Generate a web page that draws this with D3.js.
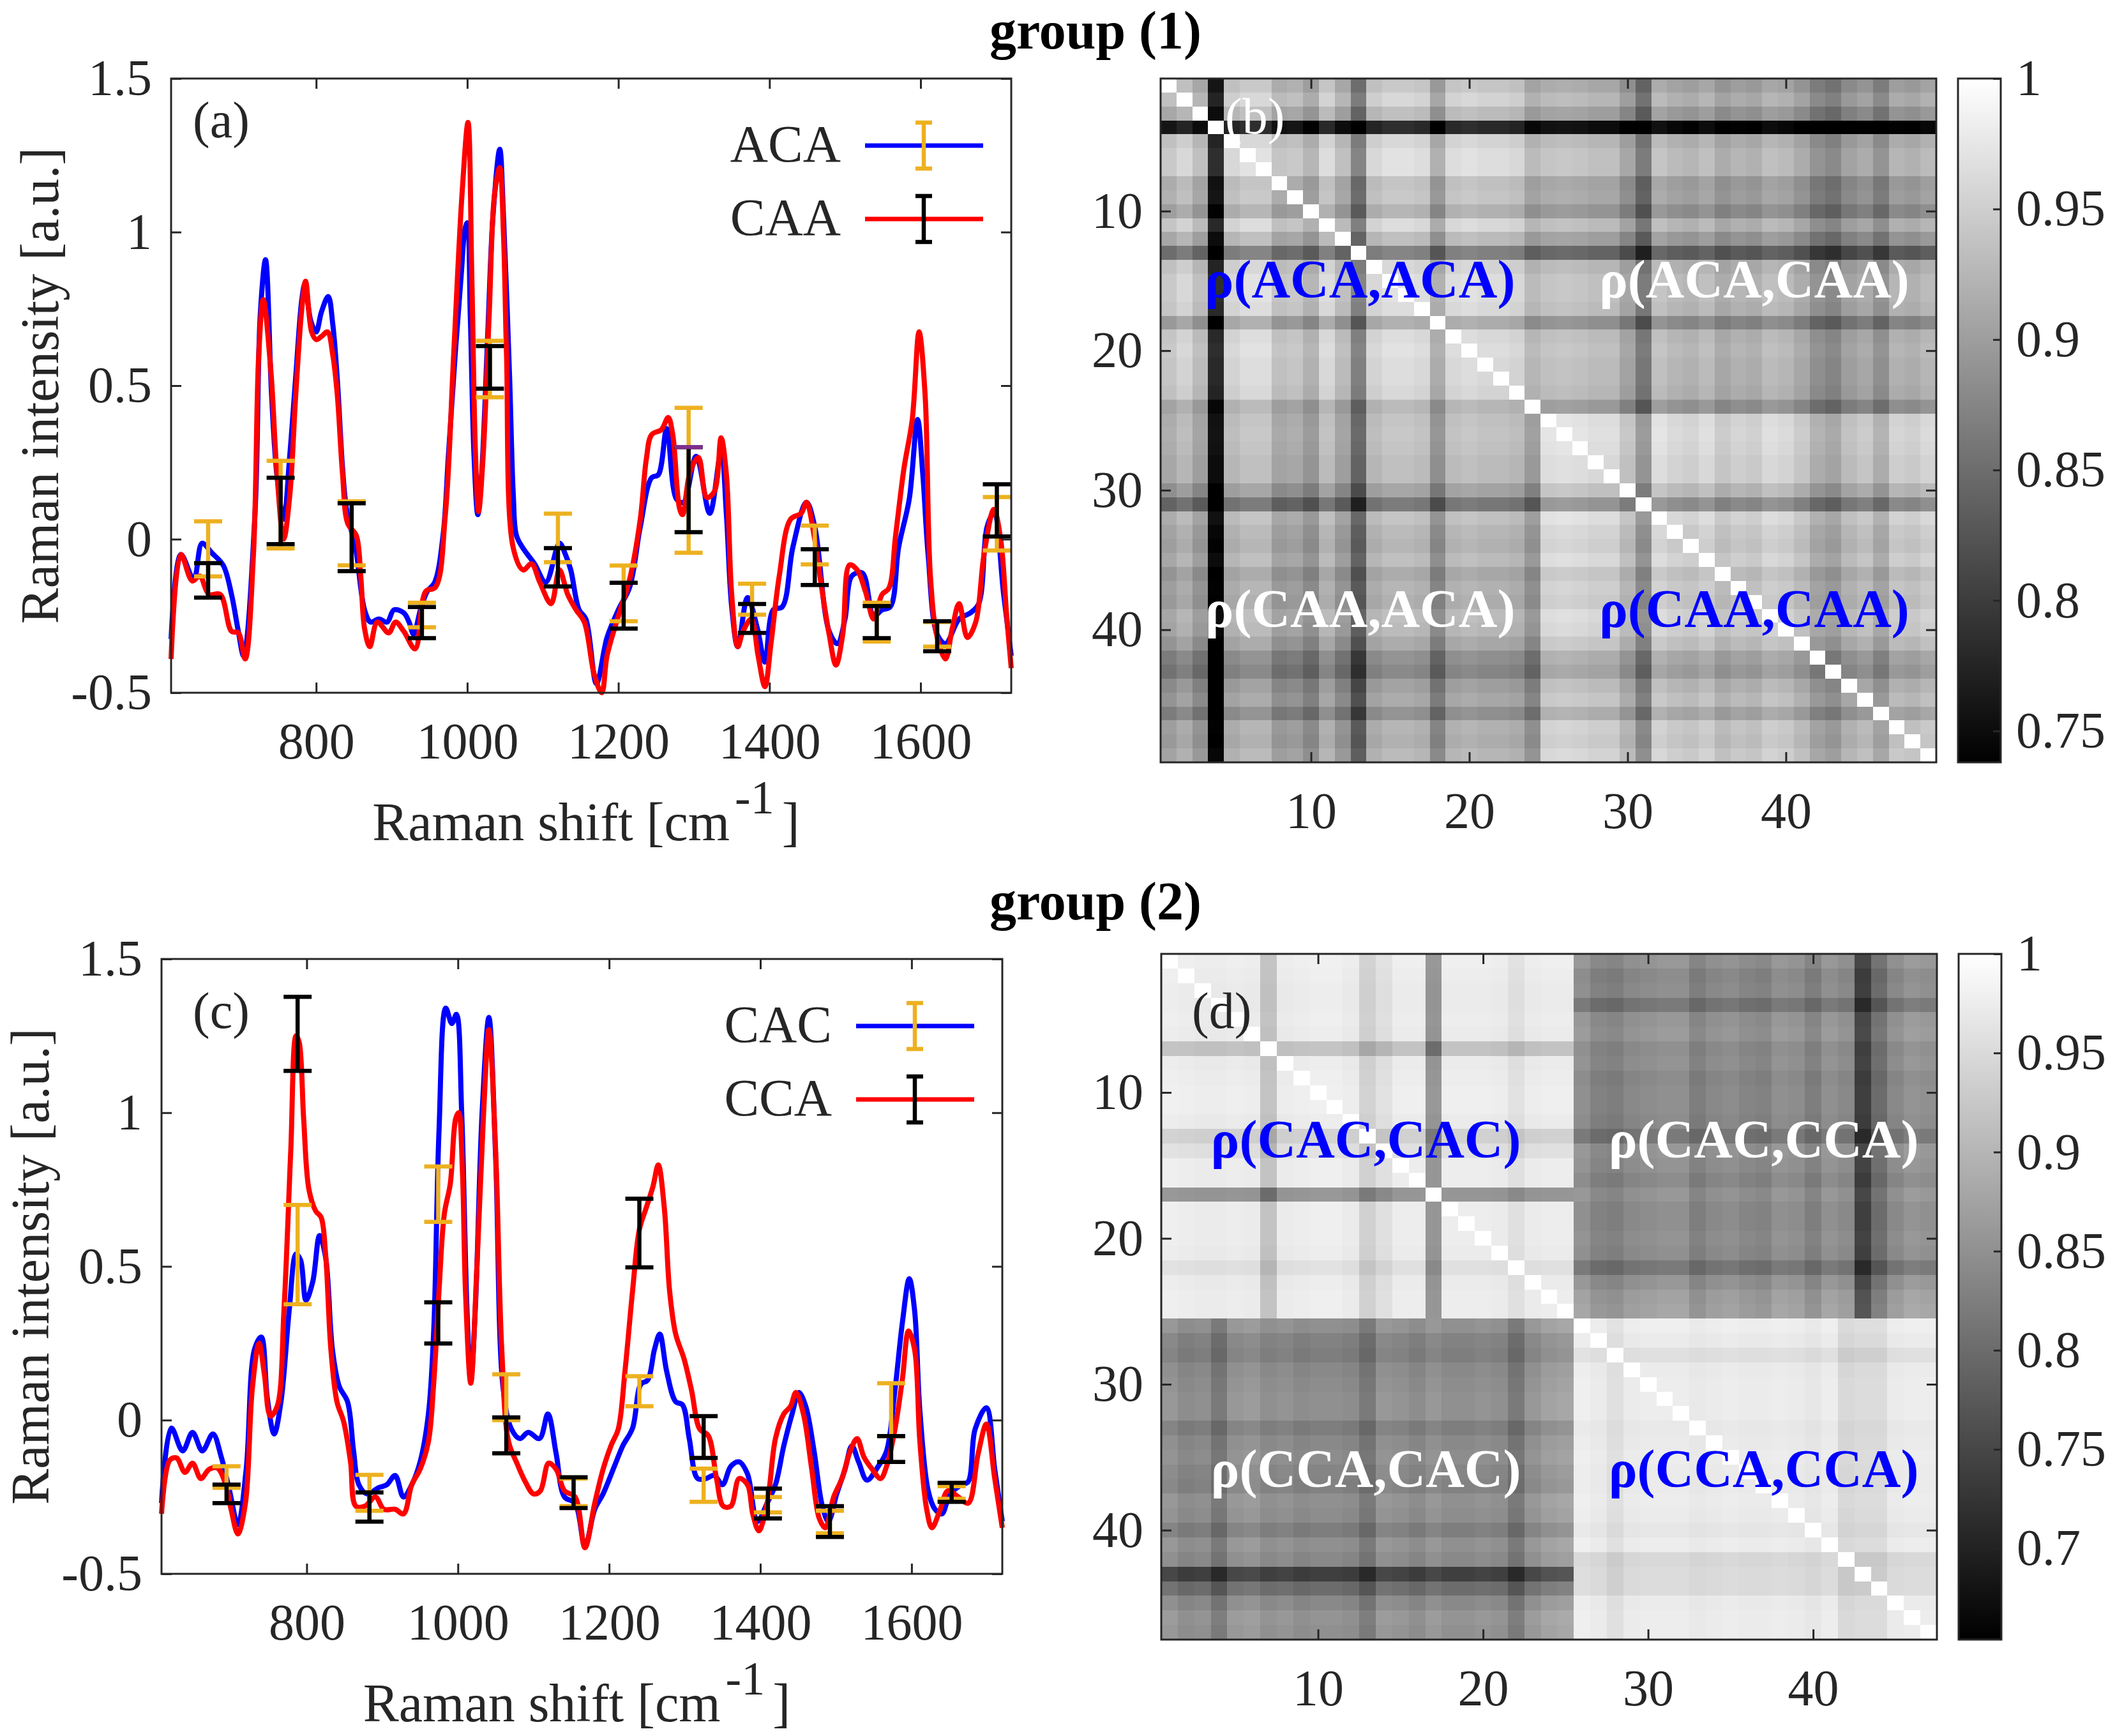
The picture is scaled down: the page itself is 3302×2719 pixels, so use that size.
<!DOCTYPE html>
<html>
<head>
<meta charset="utf-8">
<script src="https://cdn.jsdelivr.net/npm/d3@7.9.0/dist/d3.min.js"></script>
<style>
  body { margin: 0; background: #fff; }
  svg { display: block; }
  text { font-family: "Liberation Serif", "Times New Roman", serif; }
</style>
</head>
<body>
<div id="chart"></div>
<script>
// ---------- data ----------
const xDomain = [608, 1720];
const yDomain = [-0.5, 1.5];
const xTicks = [800, 1000, 1200, 1400, 1600];
const yTicks = [-0.5, 0, 0.5, 1, 1.5];

// group (1) spectra: [Raman shift, intensity]
const aca = [[608,-0.325],[621,-0.05],[638,-0.13],[649,-0.013],[662,-0.045],[677,-0.085],[688,-0.18],[697,-0.3],[704,-0.38],[719,0.08],[726,0.73],[733,0.91],[741,0.47],[748,0.21],[757,0.065],[765,0.27],[773,0.53],[781,0.78],[785,0.83],[793,0.71],[800,0.675],[807,0.74],[816,0.79],[822,0.7],[828,0.52],[835,0.23],[840,0.1],[848,0.013],[853,-0.04],[864,-0.23],[872,-0.27],[883,-0.26],[894,-0.27],[903,-0.23],[916,-0.24],[923,-0.27],[929,-0.31],[938,-0.23],[947,-0.17],[957,-0.14],[968,0.013],[975,0.27],[984,0.6],[992,0.86],[997,1.01],[1000,1.03],[1004,0.73],[1009,0.27],[1014,0.08],[1019,0.21],[1027,0.66],[1034,1.05],[1043,1.27],[1048,1.05],[1056,0.53],[1061,0.14],[1065,0.013],[1074,-0.03],[1089,-0.08],[1104,-0.14],[1122,-0.013],[1130,-0.05],[1137,-0.1],[1148,-0.23],[1157,-0.26],[1171,-0.47],[1185,-0.32],[1200,-0.23],[1215,-0.156],[1229,0.04],[1244,0.2],[1253,0.21],[1264,0.36],[1277,0.13],[1286,0.12],[1303,0.27],[1321,0.084],[1336,0.286],[1343,0.08],[1350,-0.22],[1358,-0.35],[1371,-0.19],[1384,-0.29],[1394,-0.4],[1405,-0.23],[1417,-0.22],[1431,-0.026],[1449,0.12],[1460,0.04],[1479,-0.3],[1490,-0.34],[1500,-0.26],[1509,-0.12],[1523,-0.11],[1538,-0.25],[1549,-0.23],[1560,-0.22],[1571,-0.026],[1585,0.13],[1596,0.39],[1603,0.21],[1610,-0.05],[1622,-0.31],[1633,-0.34],[1651,-0.26],[1666,-0.24],[1677,-0.21],[1688,0.04],[1697,0.084],[1710,-0.18],[1720,-0.38]];
const caa = [[608,-0.39],[621,-0.05],[636,-0.136],[646,-0.12],[658,-0.18],[673,-0.18],[688,-0.3],[697,-0.305],[706,-0.39],[717,-0.05],[724,0.6],[730,0.78],[740,0.55],[748,0.22],[757,0.0],[765,0.14],[773,0.47],[781,0.75],[786,0.84],[794,0.675],[800,0.65],[807,0.66],[815,0.675],[822,0.6],[828,0.47],[835,0.21],[842,0.05],[853,0.013],[859,-0.12],[864,-0.29],[871,-0.35],[881,-0.27],[896,-0.305],[905,-0.27],[916,-0.3],[931,-0.357],[945,-0.17],[958,-0.156],[971,0.08],[982,0.6],[993,1.12],[1001,1.357],[1006,0.86],[1011,0.27],[1015,0.09],[1021,0.27],[1029,0.73],[1036,1.12],[1043,1.21],[1048,0.99],[1052,0.6],[1061,-0.03],[1074,-0.1],[1085,-0.08],[1096,-0.14],[1111,-0.21],[1122,-0.1],[1133,-0.18],[1144,-0.23],[1155,-0.27],[1168,-0.44],[1178,-0.5],[1185,-0.38],[1200,-0.25],[1215,-0.13],[1229,0.065],[1237,0.26],[1244,0.34],[1257,0.357],[1266,0.396],[1272,0.34],[1281,0.1],[1285,0.08],[1295,0.22],[1306,0.266],[1317,0.136],[1327,0.155],[1336,0.33],[1343,0.21],[1350,-0.18],[1358,-0.35],[1365,-0.3],[1376,-0.26],[1385,-0.38],[1394,-0.48],[1402,-0.34],[1413,-0.12],[1428,0.065],[1442,0.084],[1449,0.12],[1459,0.013],[1468,-0.14],[1479,-0.31],[1488,-0.41],[1497,-0.31],[1506,-0.084],[1516,-0.1],[1527,-0.17],[1538,-0.26],[1549,-0.18],[1558,-0.16],[1567,0.013],[1578,0.23],[1589,0.39],[1598,0.675],[1606,0.47],[1613,-0.12],[1622,-0.32],[1633,-0.39],[1642,-0.29],[1651,-0.21],[1662,-0.32],[1673,-0.27],[1684,-0.05],[1697,0.097],[1706,0.0],[1714,-0.25],[1720,-0.42]];

// group (1) error bars (low, high)
const errX1 = [657, 753, 847, 940, 1030, 1120, 1207, 1293, 1377, 1460, 1542, 1622, 1701];
const acaLo = [-0.121,-0.03,-0.085,-0.287,0.462,-0.075,-0.267,-0.044,-0.246,-0.082,-0.333,-0.35,-0.037];
const acaHi = [0.058,0.255,0.123,-0.207,0.646,0.083,-0.086,0.428,-0.145,0.044,-0.207,-0.27,0.137];
const caaLo = [-0.19,-0.016,-0.104,-0.322,0.49,-0.154,-0.291,0.023,-0.305,-0.149,-0.322,-0.365,0.009];
const caaHi = [-0.078,0.2,0.117,-0.221,0.629,-0.029,-0.142,0.3,-0.211,-0.033,-0.218,-0.267,0.179];
const purpleCap = [[1293, 0.3]];

// group (2) spectra
const cac = [[608,-0.27],[621,-0.026],[636,-0.1],[649,-0.04],[662,-0.1],[676,-0.045],[687,-0.12],[698,-0.23],[709,-0.34],[720,-0.16],[731,0.23],[740,0.27],[748,0.07],[757,-0.045],[766,0.06],[777,0.36],[786,0.54],[792,0.52],[799,0.39],[808,0.45],[817,0.6],[825,0.53],[834,0.23],[843,0.11],[854,0.06],[862,-0.1],[869,-0.21],[880,-0.24],[895,-0.22],[906,-0.21],[917,-0.18],[928,-0.25],[939,-0.21],[950,-0.136],[961,0.02],[968,0.29],[975,0.94],[984,1.34],[992,1.29],[998,1.32],[1005,1.0],[1012,0.36],[1017,0.13],[1023,0.36],[1032,1.0],[1041,1.31],[1050,0.85],[1060,0.1],[1071,-0.03],[1082,-0.06],[1093,-0.04],[1108,-0.06],[1119,0.02],[1130,-0.11],[1141,-0.25],[1155,-0.27],[1168,-0.41],[1181,-0.29],[1192,-0.24],[1207,-0.15],[1218,-0.084],[1231,-0.026],[1242,0.117],[1251,0.13],[1260,0.23],[1267,0.28],[1276,0.16],[1288,0.06],[1297,0.05],[1306,-0.06],[1317,-0.19],[1328,-0.19],[1339,-0.18],[1350,-0.21],[1361,-0.15],[1372,-0.136],[1383,-0.175],[1396,-0.33],[1409,-0.27],[1420,-0.21],[1431,-0.084],[1442,0.02],[1451,0.09],[1460,0.045],[1471,-0.1],[1482,-0.28],[1490,-0.33],[1501,-0.24],[1512,-0.16],[1521,-0.084],[1530,-0.136],[1541,-0.195],[1556,-0.15],[1567,-0.1],[1578,0.097],[1588,0.32],[1597,0.46],[1604,0.357],[1611,0.03],[1622,-0.23],[1631,-0.29],[1640,-0.305],[1651,-0.24],[1666,-0.21],[1675,-0.2],[1684,-0.03],[1699,0.04],[1710,-0.16],[1720,-0.33]];
const cca = [[608,-0.305],[619,-0.13],[628,-0.123],[639,-0.17],[649,-0.14],[660,-0.19],[671,-0.16],[682,-0.156],[693,-0.21],[700,-0.29],[709,-0.37],[719,-0.27],[728,0.1],[737,0.25],[744,0.15],[752,0.013],[761,0.045],[770,0.36],[779,0.88],[786,1.25],[790,1.23],[796,0.98],[803,0.75],[812,0.68],[819,0.66],[825,0.54],[832,0.23],[840,0.06],[849,-0.006],[858,-0.136],[865,-0.28],[877,-0.28],[891,-0.25],[902,-0.29],[917,-0.29],[928,-0.305],[939,-0.21],[950,-0.16],[961,-0.07],[968,0.12],[975,0.42],[982,0.67],[990,0.77],[997,0.98],[1001,1.0],[1006,0.81],[1010,0.42],[1017,0.12],[1025,0.49],[1034,1.0],[1041,1.27],[1050,0.87],[1058,0.23],[1067,-0.07],[1078,-0.14],[1089,-0.2],[1100,-0.24],[1109,-0.23],[1120,-0.14],[1130,-0.16],[1141,-0.23],[1155,-0.25],[1168,-0.415],[1181,-0.27],[1192,-0.16],[1203,-0.08],[1212,-0.03],[1221,0.16],[1231,0.42],[1240,0.62],[1249,0.69],[1258,0.76],[1265,0.83],[1273,0.69],[1280,0.42],[1288,0.28],[1299,0.2],[1309,0.097],[1320,-0.03],[1331,-0.05],[1342,-0.19],[1351,-0.28],[1361,-0.28],[1372,-0.19],[1383,-0.21],[1390,-0.305],[1398,-0.36],[1409,-0.27],[1420,-0.06],[1431,0.02],[1440,0.045],[1447,0.09],[1457,0.02],[1468,-0.16],[1478,-0.32],[1486,-0.35],[1497,-0.25],[1508,-0.19],[1519,-0.1],[1528,-0.06],[1537,-0.12],[1548,-0.16],[1559,-0.19],[1567,-0.15],[1578,-0.03],[1588,0.136],[1596,0.29],[1604,0.23],[1611,-0.07],[1620,-0.29],[1627,-0.35],[1638,-0.29],[1648,-0.23],[1662,-0.25],[1675,-0.27],[1688,-0.11],[1699,-0.013],[1710,-0.19],[1720,-0.35]];

const errX2 = [694, 788, 883, 974, 1064, 1153, 1240, 1325, 1410, 1492, 1573, 1653];
const cacLo = [-0.22,0.377,-0.295,0.645,0.0,-0.28,0.045,-0.266,-0.3,-0.368,-0.052,-0.256];
const cacHi = [-0.15,0.7,-0.178,0.825,0.149,-0.19,0.143,-0.158,-0.25,-0.295,0.12,-0.215];
const ccaLo = [-0.27,1.136,-0.33,0.249,-0.108,-0.286,0.497,-0.123,-0.32,-0.38,-0.136,-0.266];
const ccaHi = [-0.21,1.377,-0.235,0.383,0.009,-0.186,0.72,0.013,-0.223,-0.28,-0.052,-0.204];

// correlation maps: per-spectrum deviation read from the row/column shading
// group (1): 24 ACA + 25 CAA
const bSizeA = 24;
const bWithin = [0.04,0.025,0.05,0.2,0.025,0.015,0.015,0.045,0.04,0.06,0.02,0.05,0.11,0.025,0.015,0.015,0.02,0.065,0.02,0.015,0.02,0.02,0.025,0.055,
                 0.015,0.012,0.015,0.02,0.02,0.045,0.09,0.015,0.025,0.03,0.02,0.04,0.03,0.035,0.02,0.025,0.04,0.065,0.075,0.05,0.04,0.065,0.03,0.035,0.025];
const bCross = bWithin;
const bCrossBase = 0.97;
const bColorMin = 0.738;
const bColorTicks = [0.75, 0.8, 0.85, 0.9, 0.95, 1];

// group (2): 25 CAC + 22 CCA
const dSizeA = 25;
const dWithin = [0.01,0.012,0.015,0.015,0.012,0.015,0.07,0.015,0.012,0.01,0.01,0.015,0.05,0.03,0.012,0.012,0.13,0.012,0.012,0.012,0.015,0.03,0.015,0.012,0.012,
                 0.01,0.015,0.03,0.015,0.012,0.012,0.012,0.018,0.015,0.012,0.015,0.015,0.012,0.015,0.02,0.012,0.04,0.035,0.035,0.015,0.012,0.012];
const dCross = [0.02,0.035,0.03,0.06,0.02,0.015,0.03,0.025,0.035,0.03,0.03,0.035,0.06,0.02,0.025,0.035,0.02,0.03,0.03,0.025,0.03,0.06,0.02,0.005,0.0,
                0.02,0.04,0.045,0.03,0.025,0.02,0.02,0.045,0.03,0.025,0.035,0.04,0.02,0.025,0.045,0.02,0.03,0.13,0.07,0.03,0.015,0.02];
const dCrossBase = 0.90;
const dColorMin = 0.654;
const dColorTicks = [0.7, 0.75, 0.8, 0.85, 0.9, 0.95, 1];

const heatTicks = [10, 20, 30, 40];

// ---------- drawing ----------
const W = 3302, H = 2719;
const AX = '#262626';
const FS = 80;      // tick labels
const FL = 84;      // axis labels, titles, annotations

const svg = d3.select('#chart').append('svg')
  .attr('width', W).attr('height', H)
  .attr('viewBox', `0 0 ${W} ${H}`);
svg.append('rect').attr('width', W).attr('height', H).attr('fill', '#fff');

function styleAxis(g) {
  g.select('.domain').remove();
  g.selectAll('.tick line').attr('stroke', AX).attr('stroke-width', 3);
  g.selectAll('.tick text').attr('fill', AX).attr('font-size', FS)
    .attr('font-family', '"Liberation Serif", serif');
  g.attr('font-family', null).attr('font-size', null);
}

function boxAxes(box, x, y, xt, yt, fmtX, fmtY, padX, padY) {
  const g = svg.append('g');
  g.append('g').attr('transform', `translate(0,${box.bottom})`)
    .call(d3.axisBottom(x).tickValues(xt).tickSize(-16).tickPadding(padX).tickFormat(fmtX)).call(styleAxis);
  g.append('g').attr('transform', `translate(0,${box.top})`)
    .call(d3.axisTop(x).tickValues(xt).tickSize(-16).tickFormat('')).call(styleAxis);
  g.append('g').attr('transform', `translate(${box.left},0)`)
    .call(d3.axisLeft(y).tickValues(yt).tickSize(-16).tickPadding(padY).tickFormat(fmtY)).call(styleAxis);
  g.append('g').attr('transform', `translate(${box.right},0)`)
    .call(d3.axisRight(y).tickValues(yt).tickSize(-16).tickFormat('')).call(styleAxis);
  g.append('rect')
    .attr('x', box.left).attr('y', box.top)
    .attr('width', box.right - box.left).attr('height', box.bottom - box.top)
    .attr('fill', 'none').attr('stroke', AX).attr('stroke-width', 3);
}

function errorPath(xp, ylo, yhi, half) {
  return `M${xp - half},${yhi}H${xp + half}M${xp},${yhi}V${ylo}M${xp - half},${ylo}H${xp + half}`;
}

function spectrumPanel(opt) {
  const box = opt.box;
  const x = d3.scaleLinear().domain(xDomain).range([box.left, box.right]);
  const y = d3.scaleLinear().domain(yDomain).range([box.bottom, box.top]);
  const g = svg.append('g');

  const line = d3.line().x(d => x(d[0])).y(d => y(d[1])).curve(d3.curveCatmullRom.alpha(0.5));
  opt.lines.forEach(s => {
    g.append('path').attr('d', line(s.pts))
      .attr('fill', 'none').attr('stroke', s.color).attr('stroke-width', 8)
      .attr('stroke-linejoin', 'round');
  });

  opt.errors.forEach(e => {
    g.append('g').selectAll('path')
      .data(e.x.map((xv, i) => ({ x: xv, lo: e.lo[i], hi: e.hi[i] })))
      .join('path')
      .attr('d', d => errorPath(x(d.x), y(d.lo), y(d.hi), 22))
      .attr('fill', 'none').attr('stroke', e.color).attr('stroke-width', 6.5);
  });
  if (opt.caps) {
    g.selectAll('.cap').data(opt.caps).join('path')
      .attr('d', d => `M${x(d[0]) - 22},${y(d[1])}H${x(d[0]) + 22}`)
      .attr('stroke', '#7E2F8E').attr('stroke-width', 6.5);
  }

  boxAxes(box, x, y, xTicks, yTicks, d => String(d), d => String(d), 46, 30);

  // axis labels
  const xl = svg.append('text')
    .attr('x', (box.left + box.right) / 2 - 8).attr('y', box.bottom + 231)
    .attr('text-anchor', 'middle').attr('font-size', FL).attr('fill', AX);
  xl.append('tspan').text('Raman shift [cm');
  xl.append('tspan').attr('dx', 8).attr('dy', -42).attr('font-size', 74).text('-1');
  xl.append('tspan').attr('dx', 12).attr('dy', 42).text(']');

  svg.append('text')
    .attr('transform', `translate(${box.left - 206},${(box.top + box.bottom) / 2}) rotate(-90)`)
    .attr('text-anchor', 'middle').attr('dominant-baseline', 'central')
    .attr('font-size', FL).attr('fill', AX)
    .text('Raman intensity [a.u.]');

  svg.append('text')
    .attr('x', opt.tag.x).attr('y', opt.tag.y)
    .attr('font-size', FS).attr('fill', AX).text(opt.tag.text);

  // legend
  const lx0 = box.right - 229, lx1 = box.right - 44, lxm = box.right - 137;
  opt.legend.forEach((it, i) => {
    const ly = box.top + 105 + i * 115;
    svg.append('text').attr('x', box.right - 267).attr('y', ly + 25)
      .attr('text-anchor', 'end').attr('font-size', 82).attr('fill', AX).text(it.label);
    svg.append('line').attr('x1', lx0).attr('x2', lx1).attr('y1', ly).attr('y2', ly)
      .attr('stroke', it.line).attr('stroke-width', 7);
    svg.append('path').attr('d', errorPath(lxm, ly + 36, ly - 36, 13))
      .attr('fill', 'none').attr('stroke', it.err).attr('stroke-width', 6.5);
  });
}

function heatPanel(opt) {
  const box = opt.box;
  const n = opt.within.length;
  const idx = d3.range(1, n + 1);
  const cells = [];
  idx.forEach(i => idx.forEach(j => {
    let v;
    const gi = i <= opt.sizeA, gj = j <= opt.sizeA;
    if (i === j) v = 1;
    else if (gi === gj) v = 1 - opt.within[i - 1] - opt.within[j - 1];
    else v = opt.crossBase - opt.cross[i - 1] - opt.cross[j - 1];
    cells.push({ i, j, v });
  }));

  const xb = d3.scaleBand().domain(idx).range([box.left, box.right]);
  const yb = d3.scaleBand().domain(idx).range([box.top, box.bottom]);
  const color = d3.scaleLinear().domain([opt.cmin, 1]).range(['#000000', '#ffffff']).clamp(true);

  svg.append('g').attr('shape-rendering', 'crispEdges')
    .selectAll('rect').data(cells).join('rect')
    .attr('x', d => xb(d.j)).attr('y', d => yb(d.i))
    .attr('width', xb.bandwidth() + 0.6).attr('height', yb.bandwidth() + 0.6)
    .attr('fill', d => color(d.v));

  const x = d3.scaleLinear().domain([0.5, n + 0.5]).range([box.left, box.right]);
  const y = d3.scaleLinear().domain([0.5, n + 0.5]).range([box.top, box.bottom]);
  boxAxes(box, x, y, heatTicks, heatTicks, d => String(d), d => String(d), 46, 28);

  opt.labels.forEach(l => {
    svg.append('text').attr('x', x(l.x)).attr('y', y(l.y))
      .attr('text-anchor', 'middle').attr('dominant-baseline', 'central')
      .attr('font-size', FL).attr('font-weight', 'bold').attr('fill', l.color)
      .text(l.text);
  });
  svg.append('text').attr('x', opt.tag.x).attr('y', opt.tag.y)
    .attr('font-size', FS).attr('fill', opt.tag.color).text(opt.tag.text);

  // colorbar
  const cb = opt.cbar;
  const gid = 'grad' + opt.id;
  const grad = svg.append('defs').append('linearGradient').attr('id', gid)
    .attr('x1', 0).attr('y1', 1).attr('x2', 0).attr('y2', 0);
  grad.append('stop').attr('offset', 0).attr('stop-color', '#000');
  grad.append('stop').attr('offset', 1).attr('stop-color', '#fff');
  svg.append('rect').attr('x', cb.left).attr('y', box.top)
    .attr('width', cb.right - cb.left).attr('height', box.bottom - box.top)
    .attr('fill', `url(#${gid})`);
  const cs = d3.scaleLinear().domain([opt.cmin, 1]).range([box.bottom, box.top]);
  svg.append('g').attr('transform', `translate(${cb.right},0)`)
    .call(d3.axisRight(cs).tickValues(opt.cticks).tickSize(-12).tickPadding(24)
      .tickFormat(d => d === 1 ? '1' : d3.format('.2~f')(d)))
    .call(styleAxis);
  svg.append('rect').attr('x', cb.left).attr('y', box.top)
    .attr('width', cb.right - cb.left).attr('height', box.bottom - box.top)
    .attr('fill', 'none').attr('stroke', AX).attr('stroke-width', 3);
}

// titles
[['group (1)', 76], ['group (2)', 1440]].forEach(([t, yy]) => {
  svg.append('text').attr('x', 1716).attr('y', yy)
    .attr('text-anchor', 'middle').attr('font-size', 84).attr('font-weight', 'bold')
    .attr('fill', '#000').text(t);
});

spectrumPanel({
  box: { left: 268, right: 1584, top: 123, bottom: 1085 },
  lines: [{ pts: aca, color: '#0000FF' }, { pts: caa, color: '#FF0000' }],
  errors: [{ x: errX1, lo: acaLo, hi: acaHi, color: '#EDB120' },
           { x: errX1, lo: caaLo, hi: caaHi, color: '#000000' }],
  caps: purpleCap,
  tag: { x: 302, y: 215, text: '(a)' },
  legend: [{ label: 'ACA', line: '#0000FF', err: '#EDB120' },
           { label: 'CAA', line: '#FF0000', err: '#000000' }]
});

spectrumPanel({
  box: { left: 253, right: 1570, top: 1502, bottom: 2465 },
  lines: [{ pts: cac, color: '#0000FF' }, { pts: cca, color: '#FF0000' }],
  errors: [{ x: errX2, lo: cacLo, hi: cacHi, color: '#EDB120' },
           { x: errX2, lo: ccaLo, hi: ccaHi, color: '#000000' }],
  tag: { x: 302, y: 1610, text: '(c)' },
  legend: [{ label: 'CAC', line: '#0000FF', err: '#EDB120' },
           { label: 'CCA', line: '#FF0000', err: '#000000' }]
});

heatPanel({
  id: 'b',
  box: { left: 1818, right: 3033, top: 123, bottom: 1194 },
  within: bWithin, cross: bCross, crossBase: bCrossBase, sizeA: bSizeA,
  cmin: bColorMin, cticks: bColorTicks,
  cbar: { left: 3067, right: 3134 },
  labels: [
    { x: 13.1, y: 14.9, text: 'ρ(ACA,ACA)', color: '#0000FF' },
    { x: 38.0, y: 14.9, text: 'ρ(ACA,CAA)', color: '#FFFFFF' },
    { x: 13.1, y: 38.5, text: 'ρ(CAA,ACA)', color: '#FFFFFF' },
    { x: 38.0, y: 38.5, text: 'ρ(CAA,CAA)', color: '#0000FF' }
  ],
  tag: { x: 1919, y: 209, text: '(b)', color: '#FFFFFF' }
});

heatPanel({
  id: 'd',
  box: { left: 1819, right: 3034, top: 1494, bottom: 2568 },
  within: dWithin, cross: dCross, crossBase: dCrossBase, sizeA: dSizeA,
  cmin: dColorMin, cticks: dColorTicks,
  cbar: { left: 3068, right: 3135 },
  labels: [
    { x: 12.9, y: 13.2, text: 'ρ(CAC,CAC)', color: '#0000FF' },
    { x: 37.0, y: 13.2, text: 'ρ(CAC,CCA)', color: '#FFFFFF' },
    { x: 12.9, y: 35.8, text: 'ρ(CCA,CAC)', color: '#FFFFFF' },
    { x: 37.0, y: 35.8, text: 'ρ(CCA,CCA)', color: '#0000FF' }
  ],
  tag: { x: 1867, y: 1610, text: '(d)', color: AX }
});
</script>
</body>
</html>
